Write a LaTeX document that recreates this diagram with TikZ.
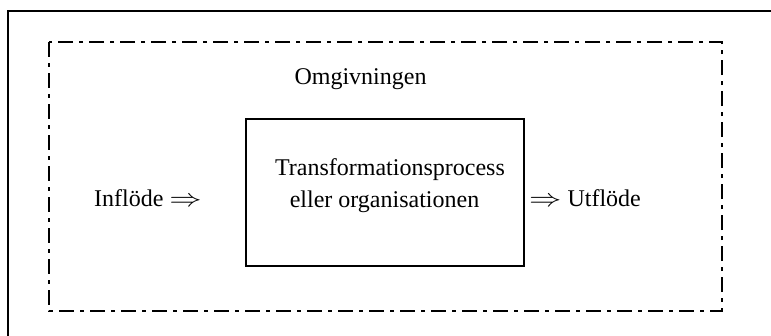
\documentclass[tikz,border=0pt]{standalone}
\usepackage{fontspec}
\setmainfont{Liberation Serif}
\newcommand{\flowarrow}{\scalebox{1.3}[1]{$\Rightarrow$}}
\begin{document}
\begin{tikzpicture}[x=1pt,y=-1pt,
  frame/.style={line width=2pt},
  envbox/.style={line width=2pt, dash pattern=on 15pt off 6pt on 4pt off 6pt},
  procbox/.style={draw, line width=1.5pt, minimum width=278pt, minimum height=147pt, inner sep=0pt},
  lbl/.style={font=\fontsize{24}{32}\selectfont, inner sep=0pt, anchor=base}]
\useasboundingbox (0,0) rectangle (771,335);
% outer page frame, running off the right and bottom edges
\begin{scope}
  \clip (0,0) rectangle (771,335);
  \draw[frame] (8,11) rectangle (800,360);
\end{scope}
% the environment
\draw[envbox] (49,42) rectangle (722,311);
\node[lbl] (omg) at (360.5,84) {Omgivningen};
% the transformation process
\node[procbox] (proc) at (385,192.5) {};
\node[lbl] (proctop) at (390,175) {Transformationsprocess};
\node[lbl] (procbot) at (384.5,207) {eller organisationen};
% flows in and out
\node[lbl] (inflow) at (148,206) {Inflöde \flowarrow};
\node[lbl] (outflow) at (585,206) {\flowarrow\ Utflöde};
\end{tikzpicture}
\end{document}
